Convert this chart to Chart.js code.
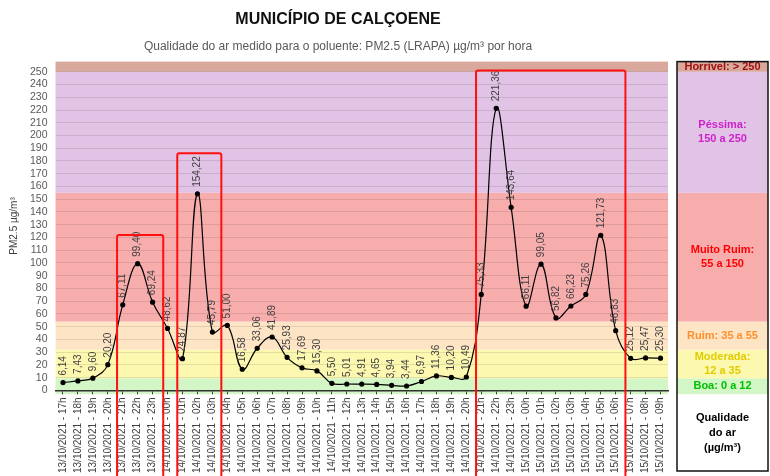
<!DOCTYPE html>
<html lang="pt-BR">
<head>
<meta charset="utf-8">
<title>Município de Calçoene - PM2.5</title>
<script src="https://cdn.jsdelivr.net/npm/chart.js@4.4.1/dist/chart.umd.min.js"></script>
<style>
  body { margin: 0; background: #fff; }
  #caixa { width: 770px; height: 476px; position: relative; }
</style>
</head>
<body>
<div id="caixa"><canvas id="graficoPM25"></canvas></div>
<script>
// horários das medições
const horarios = [
    "13/10/2021 - 17h", "13/10/2021 - 18h", "13/10/2021 - 19h", "13/10/2021 - 20h",
    "13/10/2021 - 21h", "13/10/2021 - 22h", "13/10/2021 - 23h",
    "14/10/2021 - 00h", "14/10/2021 - 01h", "14/10/2021 - 02h", "14/10/2021 - 03h",
    "14/10/2021 - 04h", "14/10/2021 - 05h", "14/10/2021 - 06h", "14/10/2021 - 07h",
    "14/10/2021 - 08h", "14/10/2021 - 09h", "14/10/2021 - 10h", "14/10/2021 - 11h",
    "14/10/2021 - 12h", "14/10/2021 - 13h", "14/10/2021 - 14h", "14/10/2021 - 15h",
    "14/10/2021 - 16h", "14/10/2021 - 17h", "14/10/2021 - 18h", "14/10/2021 - 19h",
    "14/10/2021 - 20h", "14/10/2021 - 21h", "14/10/2021 - 22h", "14/10/2021 - 23h",
    "15/10/2021 - 00h", "15/10/2021 - 01h", "15/10/2021 - 02h", "15/10/2021 - 03h",
    "15/10/2021 - 04h", "15/10/2021 - 05h", "15/10/2021 - 06h", "15/10/2021 - 07h",
    "15/10/2021 - 08h", "15/10/2021 - 09h"
];

// PM2.5 (LRAPA) em µg/m³
const valoresPM25 = [
    6.14, 7.43, 9.60, 20.20, 67.11, 99.40, 69.24, 48.62, 24.87, 154.22,
    45.79, 51.00, 16.58, 33.06, 41.89, 25.93, 17.69, 15.30, 5.50, 5.01,
    4.91, 4.65, 3.94, 3.44, 6.97, 11.36, 10.20, 10.49, 75.33, 221.36,
    143.64, 66.11, 99.05, 56.82, 66.23, 75.26, 121.73, 46.83, 25.12, 25.47,
    25.30
];

// marcas do eixo vertical
const marcasY = [0, 10, 20, 30, 40, 50, 60, 70, 80, 90, 100, 110, 120, 130,
    140, 150, 160, 170, 180, 190, 200, 210, 220, 230, 240, 250];

// faixas de qualidade do ar (como aparecem no fundo do gráfico)
const faixaInicio = [-3, 9.5, 32, 54, 155, 250];
const faixaFim = [9.5, 32, 54, 155, 250, 258];
const faixaNomes = [
    ["Boa: 0 a 12"],
    ["Moderada:", "12 a 35"],
    ["Ruim: 35 a 55"],
    ["Muito Ruim:", "55 a 150"],
    ["Péssima:", "150 a 250"],
    ["Horrível: > 250"]
];
const faixaCores = ["#d3f6c6", "#fdf8b0", "#fde4c4", "#f8adad", "#e1c3e5", "#d9a89c"];
const faixaTextoCores = ["#00c000", "#e0cc00", "#ff8f2e", "#ff0000", "#cc22cc", "#a01010"];

// destaques em vermelho (índice inicial, índice final, valor do topo)
const destaqueDe = [3.62, 7.65, 27.65];
const destaqueAte = [6.71, 10.6, 37.65];
const destaqueTopo = [122, 186, 251];

const fundoFaixas = {
    id: "fundoFaixas",
    beforeDraw(chart) {
        const ctx = chart.ctx, y = chart.scales.y, area = chart.chartArea;
        ctx.save();
        faixaInicio.forEach((ini, i) => {
            const y0 = y.getPixelForValue(faixaFim[i]);
            const y1 = y.getPixelForValue(ini);
            ctx.fillStyle = faixaCores[i];
            ctx.fillRect(area.left, y0, area.right - area.left, y1 - y0);
        });
        ctx.restore();
    }
};

const painelQualidade = {
    id: "painelQualidade",
    afterDraw(chart) {
        const ctx = chart.ctx, y = chart.scales.y;
        const x0 = chart.chartArea.right + 9, x1 = chart.width - 2;
        const meio = (x0 + x1) / 2;
        const topo = y.getPixelForValue(faixaFim[faixaFim.length - 1]);
        const base = chart.height - 5;
        ctx.save();
        ctx.font = "bold 11px 'Liberation Sans', Arial, sans-serif";
        ctx.textAlign = "center";
        ctx.textBaseline = "middle";
        faixaInicio.forEach((ini, i) => {
            const y0 = y.getPixelForValue(faixaFim[i]);
            const y1 = y.getPixelForValue(ini);
            ctx.fillStyle = faixaCores[i];
            ctx.fillRect(x0, y0, x1 - x0, y1 - y0);
            const linhas = faixaNomes[i];
            const c = (y0 + y1) / 2 - (linhas.length - 1) * 7;
            ctx.fillStyle = faixaTextoCores[i];
            linhas.forEach((t, k) => ctx.fillText(t, meio, c + k * 14));
        });
        const fimFaixas = y.getPixelForValue(faixaInicio[0]);
        const c = (fimFaixas + base) / 2;
        ctx.fillStyle = "#000";
        ["Qualidade", "do ar", "(µg/m³)"].forEach((t, k) => ctx.fillText(t, meio, c + (k - 1) * 15));
        ctx.strokeStyle = "#111";
        ctx.lineWidth = 1.5;
        ctx.strokeRect(x0, topo, x1 - x0, base - topo);
        ctx.restore();
    }
};

const destaquesERotulos = {
    id: "destaquesERotulos",
    afterDatasetsDraw(chart) {
        const ctx = chart.ctx, x = chart.scales.x, y = chart.scales.y;
        ctx.save();
        // rótulos dos valores
        ctx.font = "10px 'Liberation Sans', Arial, sans-serif";
        ctx.fillStyle = "#404040";
        ctx.textAlign = "left";
        ctx.textBaseline = "middle";
        chart.getDatasetMeta(0).data.forEach((p, i) => {
            ctx.save();
            ctx.translate(p.x, p.y - 7);
            ctx.rotate(-Math.PI / 2);
            ctx.fillText(valoresPM25[i].toFixed(2).replace(".", ","), 0, 0);
            ctx.restore();
        });
        // retângulos vermelhos
        ctx.strokeStyle = "#ff1010";
        ctx.lineWidth = 2;
        destaqueDe.forEach((de, i) => {
            const xa = x.getPixelForValue(de), xb = x.getPixelForValue(destaqueAte[i]);
            const yt = y.getPixelForValue(destaqueTopo[i]);
            ctx.beginPath();
            ctx.moveTo(xa, chart.height + 2);
            ctx.lineTo(xa, yt + 2);
            ctx.quadraticCurveTo(xa, yt, xa + 2, yt);
            ctx.lineTo(xb - 2, yt);
            ctx.quadraticCurveTo(xb, yt, xb, yt + 2);
            ctx.lineTo(xb, chart.height + 2);
            ctx.stroke();
        });
        ctx.restore();
    }
};

new Chart(document.getElementById("graficoPM25").getContext("2d"), {
    type: "line",
    data: {
        labels: horarios,
        datasets: [{
            label: "PM2.5 (LRAPA)",
            data: valoresPM25,
            borderColor: "#000",
            borderWidth: 1.2,
            backgroundColor: "#000",
            pointRadius: 2,
            pointBackgroundColor: "#000",
            tension: 0.4,
            fill: false
        }]
    },
    options: {
        responsive: true,
        maintainAspectRatio: false,
        animation: false,
        layout: { padding: { left: 8, right: 102, top: 0, bottom: 0 } },
        scales: {
            x: {
                offset: true,
                grid: { drawOnChartArea: false, drawTicks: true, tickLength: 4, color: "#444" },
                border: { color: "#333", width: 1.5 },
                ticks: {
                    autoSkip: false,
                    maxRotation: 90,
                    minRotation: 90,
                    padding: 3,
                    color: "#404040",
                    font: { family: "'Liberation Sans', Arial, sans-serif", size: 10 }
                }
            },
            y: {
                min: 0,
                max: 258,
                afterBuildTicks: axis => { axis.ticks = marcasY.map(v => ({ value: v })); },
                grid: { color: "rgba(0,0,0,0.10)", drawTicks: false },
                border: { display: false },
                ticks: {
                    autoSkip: false,
                    padding: 8,
                    color: "#595959",
                    font: { family: "'Liberation Sans', Arial, sans-serif", size: 10.5 }
                },
                title: {
                    display: true,
                    text: "PM2.5 µg/m³",
                    color: "#404040",
                    padding: { top: 0, bottom: 2 },
                    font: { family: "'Liberation Sans', Arial, sans-serif", size: 10 }
                }
            }
        },
        plugins: {
            legend: { display: false },
            tooltip: { enabled: false },
            title: {
                display: true,
                text: "MUNICÍPIO DE CALÇOENE",
                color: "#111",
                padding: { top: 10, bottom: 10 },
                font: { family: "'Liberation Sans', Arial, sans-serif", size: 16, weight: "bold" }
            },
            subtitle: {
                display: true,
                text: "Qualidade do ar medido para o poluente: PM2.5 (LRAPA) µg/m³ por hora",
                color: "#595959",
                padding: { bottom: 8 },
                font: { family: "'Liberation Sans', Arial, sans-serif", size: 12 }
            }
        }
    },
    plugins: [fundoFaixas, painelQualidade, destaquesERotulos]
});
</script>
</body>
</html>
